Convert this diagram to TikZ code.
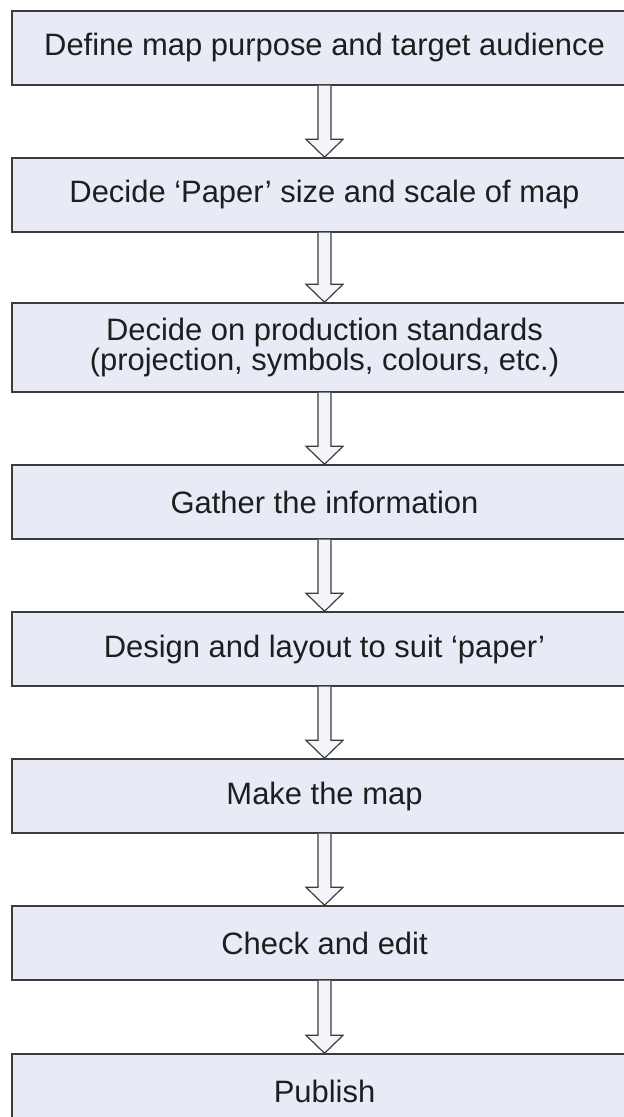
\documentclass[tikz,border=0pt]{standalone}
\usepackage{fontspec}
\setmainfont{Liberation Sans}
\usetikzlibrary{calc}
\definecolor{boxfill}{HTML}{E8EBF5}
\definecolor{boxline}{HTML}{3C3C3C}
\definecolor{txt}{HTML}{1E1E1E}
\definecolor{arrowfill}{HTML}{F3F5FA}
\newcommand{\flowarrow}[2]{%
  \draw[blockarrow] let \p1=(#1.south), \p2=(#2.north) in
    (\x1-4.875pt,\y1) -- (\x1-4.875pt,\y2+13.5pt) -- (\x1-13.875pt,\y2+13.5pt) --
    (\x1,\y2) -- (\x1+13.875pt,\y2+13.5pt) -- (\x1+4.875pt,\y2+13.5pt) -- (\x1+4.875pt,\y1);}
\begin{document}
\begin{tikzpicture}[x=0.75pt,y=-0.75pt,
  stepbox/.style={draw=boxline, line width=1.1pt, fill=boxfill,
    minimum width=468.75pt, minimum height=55.5pt, inner sep=0pt,
    align=center, text=txt, font=\fontsize{23.2}{20}\selectfont},
  blockarrow/.style={draw=boxline, line width=0.9pt, fill=arrowfill, line join=miter}]
\useasboundingbox (0,0) rectangle (624,1117);
\clip (0,0) rectangle (624,1117);
\fill[white] (0,0) rectangle (624,1117);
\node[stepbox] (b1) at (324.5,48) {Define map purpose and target audience};
\node[stepbox] (b2) at (324.5,195) {Decide `Paper' size and scale of map};
\node[stepbox, minimum height=66.75pt] (b3) at (324.5,347.5) {Decide on production standards\\(projection, symbols, colours, etc.)};
\node[stepbox] (b4) at (324.5,502) {Gather the information};
\node[stepbox] (b5) at (324.5,649) {Design and layout to suit `paper'};
\node[stepbox] (b6) at (324.5,796) {Make the map};
\node[stepbox] (b7) at (324.5,943) {Check and edit};
\node[stepbox] (b8) at (324.5,1091) {Publish};
\flowarrow{b1}{b2}
\flowarrow{b2}{b3}
\flowarrow{b3}{b4}
\flowarrow{b4}{b5}
\flowarrow{b5}{b6}
\flowarrow{b6}{b7}
\flowarrow{b7}{b8}
\end{tikzpicture}
\end{document}
